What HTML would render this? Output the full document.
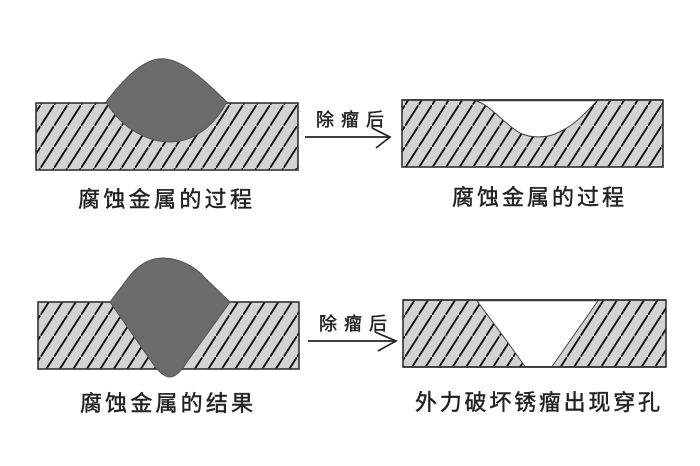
<!DOCTYPE html>
<html>
<head>
<meta charset="utf-8">
<style>
  html, body { margin: 0; padding: 0; background: #ffffff; }
  body { width: 700px; height: 466px; overflow: hidden; }
  svg { display: block; }
  text { font-family: "Liberation Sans", "Noto Sans CJK SC", "WenQuanYi Zen Hei", sans-serif; fill: #222; stroke: #222; stroke-width: 0.45; }
</style>
</head>
<body>
<svg width="700" height="466" viewBox="0 0 700 466" xmlns="http://www.w3.org/2000/svg">
  <defs>
    <pattern id="hatch" patternUnits="userSpaceOnUse" width="13.5" height="21" x="0" y="0">
      <rect x="0" y="0" width="13.5" height="21" fill="#d3d3d3"/>
      <line x1="-1" y1="22.55" x2="14.5" y2="-1.55" stroke="#111" stroke-width="1.9"/>
    </pattern>
  </defs>

  <!-- Panel 1: top-left -->
  <rect x="36" y="103" width="262" height="67" fill="url(#hatch)" stroke="#333" stroke-width="1.6"/>
  <path d="M106,102 C118,86 138,62 158,59 C180,56 204,80 227,102 C214,126 194,142 170,142 C145,142 120,126 106,102 Z"
        fill="#6b6b6b" stroke="#555" stroke-width="1"/>
  <text x="78" y="207" font-size="22" textLength="174" lengthAdjust="spacing">腐蚀金属的过程</text>

  <!-- Arrow 1 -->
  <text x="316" y="126" font-size="18" textLength="68" lengthAdjust="spacing">除瘤后</text>
  <line x1="305" y1="137" x2="389" y2="137" stroke="#222" stroke-width="1.7"/>
  <polyline points="372,128 390,137 376,148" fill="none" stroke="#222" stroke-width="1.7"/>

  <!-- Panel 2: top-right -->
  <rect x="402" y="100" width="261" height="67" fill="url(#hatch)" stroke="#333" stroke-width="1.6"/>
  <path d="M475,100.8 C490,104 505,125 520,133 C530,138 545,138 555,134 C575,126 588,110 597,100.8 Z"
        fill="#ffffff" stroke="#444" stroke-width="1"/>
  <line x1="402" y1="100" x2="663" y2="100" stroke="#333" stroke-width="1.6"/>
  <text x="452" y="205" font-size="22" textLength="172" lengthAdjust="spacing">腐蚀金属的过程</text>

  <!-- Panel 3: bottom-left -->
  <rect x="38" y="302" width="261" height="67" fill="url(#hatch)" stroke="#333" stroke-width="1.6"/>
  <path d="M110,302 L128,278 C140,262 152,258 163,258 C178,258 195,266 205,278 L230,302 L187,362 C182,370 176,377 170,377 C164,377 157,370 151,361 Z"
        fill="#6b6b6b" stroke="#555" stroke-width="1"/>
  <text x="80" y="411" font-size="22" textLength="173" lengthAdjust="spacing">腐蚀金属的结果</text>

  <!-- Arrow 2 -->
  <text x="319" y="330" font-size="18" textLength="68" lengthAdjust="spacing">除瘤后</text>
  <line x1="308" y1="341" x2="395" y2="341" stroke="#222" stroke-width="1.7"/>
  <polyline points="375,332 396,341 378,351" fill="none" stroke="#222" stroke-width="1.7"/>

  <!-- Panel 4: bottom-right -->
  <rect x="403" y="300" width="263" height="67" fill="url(#hatch)" stroke="#333" stroke-width="1.6"/>
  <path d="M477,300.8 C485,312 505,338 525,366.5 L552,366.5 L598,300.8 Z"
        fill="#ffffff" stroke="#444" stroke-width="1"/>
  <line x1="403" y1="300" x2="666" y2="300" stroke="#333" stroke-width="1.6"/>
  <line x1="403" y1="367" x2="666" y2="367" stroke="#333" stroke-width="1.6"/>
  <text x="415" y="410" font-size="22" textLength="245" lengthAdjust="spacing">外力破坏锈瘤出现穿孔</text>
</svg>
</body>
</html>
